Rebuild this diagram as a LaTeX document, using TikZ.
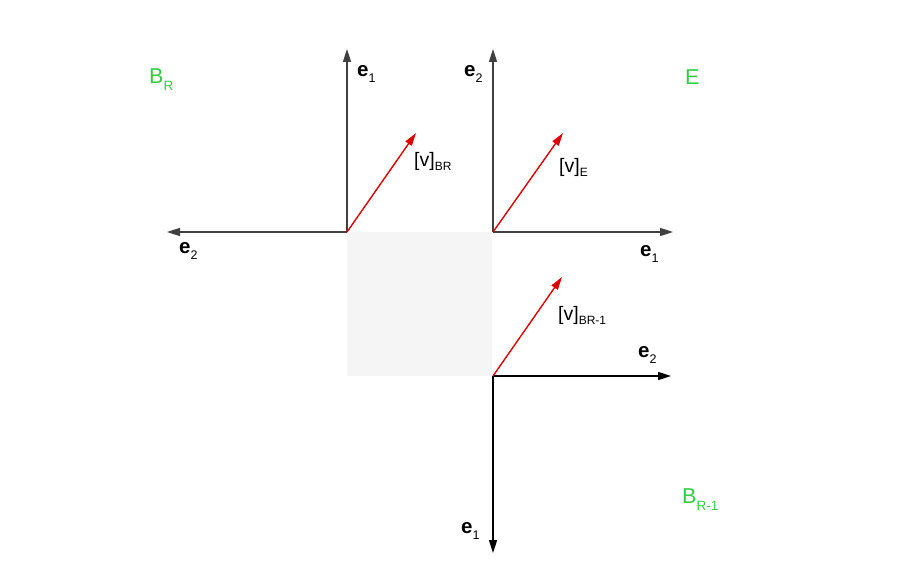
\documentclass[tikz,border=0pt]{standalone}
\usepackage{fontspec}
\setmainfont{Liberation Sans}
\usetikzlibrary{arrows.meta}
\definecolor{axisgray}{RGB}{64,64,64}
\definecolor{vecred}{RGB}{220,0,0}
\definecolor{basisgreen}{RGB}{51,204,68}
\definecolor{cellgray}{RGB}{245,245,245}
% basis vector e_i and coordinate vector [v]_X
\newcommand{\evec}[1]{\textbf{e}\raisebox{-6pt}{\fontsize{12.5}{12.5}\selectfont #1}}
\newcommand{\coordvec}[1]{[v]\raisebox{-4pt}{\fontsize{12}{12}\selectfont #1}}
\newcommand{\basisname}[2]{#1\raisebox{-7pt}{\fontsize{13.5}{13.5}\selectfont #2}}
\begin{document}
\begin{tikzpicture}[x=1pt,y=1pt,yscale=-1,xscale=1,
	axis/.style={draw=axisgray,line width=1.6pt,-{Triangle[length=13pt,width=8pt]}},
	axisblack/.style={axis,draw=black},
	redvec/.style={draw=vecred,line width=1.4pt,-{Triangle[length=13pt,width=7.5pt]}},
	elabel/.style={anchor=base west,inner sep=0pt,font=\fontsize{20.5}{20.5}\selectfont},
	vlabel/.style={anchor=base west,inner sep=0pt,font=\fontsize{19.5}{19.5}\selectfont},
	blabel/.style={anchor=base west,inner sep=0pt,text=basisgreen,font=\fontsize{21.5}{21.5}\selectfont}]
	\useasboundingbox (0,0) rectangle (900,567);

	%Shape: Rectangle [shaded cell]
	\fill [cellgray] (347,232) rectangle (492,376);

	% origins and tips
	\coordinate (oR) at (347,232);
	\coordinate (oE) at (493,232);
	\coordinate (oRi) at (493,376);
	\coordinate (oRup) at (347,49);
	\coordinate (oRleft) at (167,232);
	\coordinate (oEup) at (493,49);
	\coordinate (oEright) at (673,232);
	\coordinate (oRiright) at (671,376);
	\coordinate (oRidown) at (493,553);
	\coordinate (vR) at (416,133);
	\coordinate (vE) at (563,133);
	\coordinate (vRi) at (562,277);

	%Straight Lines [axes]
	\draw [axis] (oR) -- (oRup);
	\draw [axis] (oR) -- (oRleft);
	\draw [axis] (oE) -- (oEup);
	\draw [axis] (oE) -- (oEright);
	\draw [axisblack] (oRi) -- (oRiright);
	\draw [axisblack] (oRi) -- (oRidown);

	%Straight Lines [vectors]
	\draw [redvec] (oR) -- (vR);
	\draw [redvec] (oE) -- (vE);
	\draw [redvec] (oRi) -- (vRi);

	% Text Node
	\node [elabel] (eRone) at (357,77) {\evec{1}};
	% Text Node
	\node [elabel] (eRtwo) at (179,253) {\evec{2}};
	% Text Node
	\node [elabel] (eEtwo) at (464,77) {\evec{2}};
	% Text Node
	\node [elabel] (eEone) at (640,256) {\evec{1}};
	% Text Node
	\node [elabel] (eRitwo) at (638,357) {\evec{2}};
	% Text Node
	\node [elabel] (eRione) at (461,533) {\evec{1}};
	% Text Node
	\node [vlabel] (lvR) at (414,167) {\coordvec{BR}};
	% Text Node
	\node [vlabel] (lvE) at (559,172) {\coordvec{E}};
	% Text Node
	\node [vlabel] (lvRi) at (558,320) {\coordvec{BR-1}};
	% Text Node
	\node [blabel] (bR) at (149,84) {\basisname{B}{R}};
	% Text Node
	\node [blabel] (bE) at (685,85) {E};
	% Text Node
	\node [blabel] (bRi) at (682,503) {\basisname{B}{R-1}};
\end{tikzpicture}
\end{document}
